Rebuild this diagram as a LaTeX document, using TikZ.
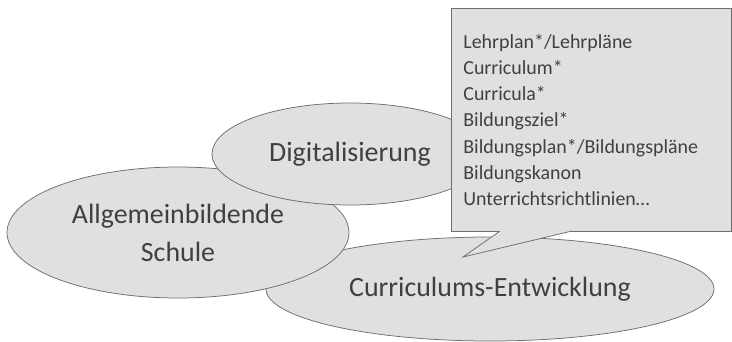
\documentclass[tikz,border=0pt]{standalone}
\usepackage{fontspec}
\setmainfont{Carlito}
\usetikzlibrary{shapes.geometric}

\definecolor{bubblefill}{HTML}{E0E0E0}
\definecolor{bubbleline}{HTML}{6E6E6E}
\definecolor{bubbletext}{HTML}{404040}

\begin{document}
\begin{tikzpicture}[
  x=1bp,
  y=-1bp,
  bubble/.style={
      ellipse,
      draw=bubbleline,
      fill=bubblefill,
      line width=0.75bp,
      inner sep=0pt,
      text=bubbletext,
      align=center,
      font=\fontsize{28}{38}\selectfont
  },
  termbox/.style={
      rectangle,
      draw=bubbleline,
      fill=bubblefill,
      line width=0.75bp,
      inner xsep=12bp,
      inner ysep=0pt,
      text width=256bp,
      align=left,
      text=bubbletext,
      font=\fontsize{20}{26.3}\selectfont
  }
]

\useasboundingbox (0,0) rectangle (732,341);

% ==================================================
% Topic Ellipses
% ==================================================

\node[bubble,
      minimum width=448bp,
      minimum height=104bp]
      (curr) at (490,289)
      {Curriculums-Entwicklung};

\node[bubble,
      minimum width=342bp,
      minimum height=131bp]
      (school) at (178,232.5)
      {Allgemeinbildende\\Schule};

\node[bubble,
      minimum width=276bp,
      minimum height=102bp]
      (digi) at (350,154)
      {Digitalisierung};

% ==================================================
% Term List
% ==================================================

\node[termbox,
      anchor=north west,
      minimum width=280bp,
      minimum height=223bp]
      (terms) at (451,8)
      {Lehrplan*/Lehrpläne\\
       Curriculum*\\
       Curricula*\\
       Bildungsziel*\\
       Bildungsplan*/Bildungspläne\\
       Bildungskanon\\
       Unterrichtsrichtlinien…};

\coordinate (tip) at (463,257);

% pointer of the term list
\fill[bubblefill]
      (500,230) -- (500,231)
      -- (tip)
      -- (572,231) -- (572,230)
      -- cycle;

\draw[bubbleline, line width=0.75bp]
      (500,231)
      -- (tip)
      -- (572,231);

\end{tikzpicture}
\end{document}
